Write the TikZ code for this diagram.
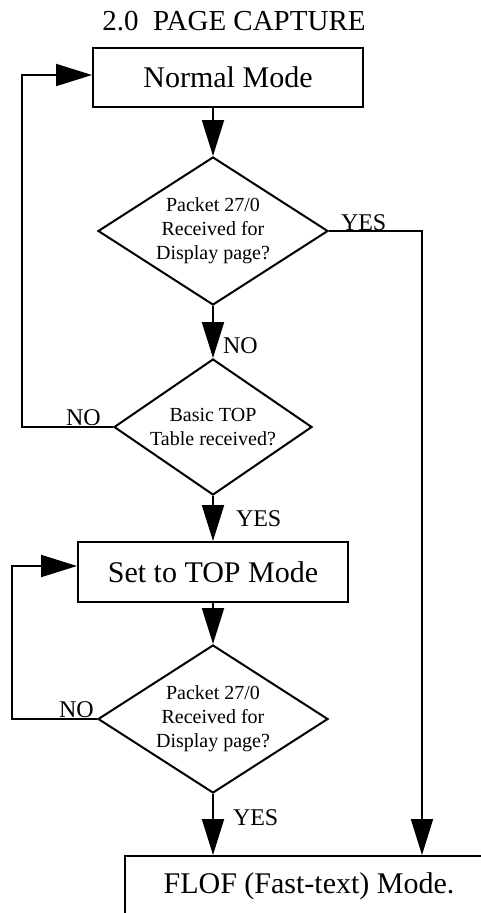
\documentclass[tikz,border=0pt]{standalone}
\usepackage{fontspec}
\setmainfont{Liberation Serif}
\usetikzlibrary{shapes.geometric,arrows.meta}

\begin{document}
\begin{tikzpicture}[x=1pt,y=-1pt,line width=2pt,
  modebox/.style={draw,rectangle,minimum width=270pt,minimum height=60pt,inner sep=0pt,font=\fontsize{30}{36}\selectfont},
  query/.style={draw,diamond,inner sep=0pt,align=center,font=\fontsize{20}{24}\selectfont},
  answer/.style={anchor=base west,inner sep=0pt,font=\fontsize{24}{28}\selectfont},
  flow/.style={-{Triangle[length=36pt,width=22pt]}}]
\useasboundingbox (0,0) rectangle (481,913);
\clip (0,0) rectangle (481,913);
\node [anchor=base,inner sep=0pt,font=\fontsize{29}{34}\selectfont] (title) at (234,30) {2.0\ \ PAGE CAPTURE};
\node [modebox,minimum height=59pt] (normal) at (228,77.5) {Normal Mode};
\node [query,minimum width=230pt,minimum height=148pt,aspect=1.55] (pkt1) at (213,231) {Packet 27/0\\Received for\\Display page?};
\node [query,minimum width=198pt,minimum height=136pt,aspect=1.46] (basic) at (213,427) {Basic TOP\\Table received?};
\node [modebox] (topmode) at (213,572) {Set to TOP Mode};
\node [query,minimum width=230pt,minimum height=148pt,aspect=1.55] (pkt2) at (213,719) {Packet 27/0\\Received for\\Display page?};
\node [modebox,anchor=north west,minimum width=368pt,minimum height=0pt,text height=37pt,text depth=30pt] (flof) at (124,855) {FLOF (Fast-text) Mode.};
\node [answer] (yes1) at (340,230) {YES};
\node [answer] (no1) at (222,353) {NO};
\node [answer] (no2) at (65,425) {NO};
\node [answer] (yes2) at (235,526) {YES};
\node [answer] (no3) at (58,717) {NO};
\node [answer] (yes3) at (232,825) {YES};
\coordinate (rightrail) at (422,231);
\coordinate (leftrail) at (22,75);
\coordinate (innerrail) at (12,566);
\draw [flow] (pkt1.north |- normal.south) -- (pkt1.north);
\draw [flow] (pkt1.east) -- (rightrail) -- (rightrail |- flof.north);
\draw [flow] (pkt1.south) -- (basic.north);
\draw [flow] (basic.west) -| (leftrail) -- (leftrail -| normal.west);
\draw [flow] (basic.south) -- (topmode.north);
\draw [flow] (topmode.south) -- (pkt2.north);
\draw [flow] (pkt2.west) -| (innerrail) -- (innerrail -| topmode.west);
\draw [flow] (pkt2.south) -- (pkt2.south |- flof.north);
\end{tikzpicture}
\end{document}
